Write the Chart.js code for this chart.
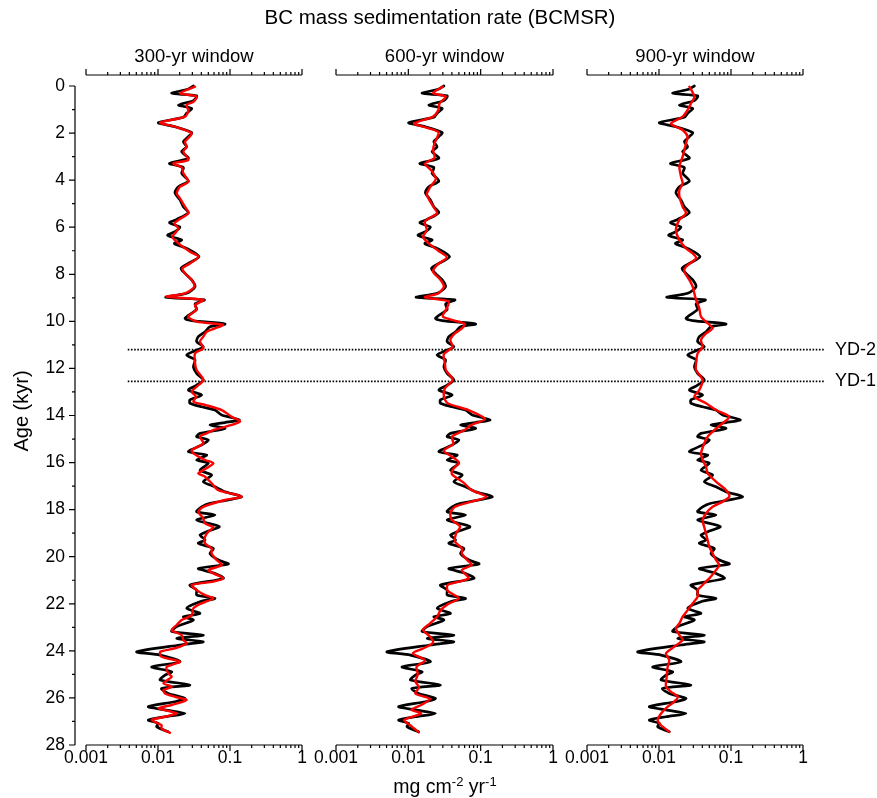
<!DOCTYPE html>
<html>
<head>
<meta charset="utf-8">
<script src="https://cdn.jsdelivr.net/npm/chart.js@4.4.1/dist/chart.umd.min.js"></script>
<style>
  html, body { margin: 0; padding: 0; background: #fff; }
  #wrap { position: relative; width: 877px; height: 798px; }
  #wrap canvas { position: absolute; left: 0; top: 0; }
</style>
</head>
<body>
<div id="wrap">
  <canvas id="c1" width="877" height="798"></canvas>
  <canvas id="c2" width="877" height="798"></canvas>
  <canvas id="c3" width="877" height="798"></canvas>
</div>
<script>
// raw BCMSR (black), same in every panel
const blackAge = [
  0.00, 0.14, 0.31, 0.42, 0.62, 0.81, 0.95, 1.16, 1.33, 1.56, 1.73, 1.98, 2.15, 2.37, 2.58, 2.79,
  3.07, 3.29, 3.46, 3.71, 4.04, 4.28, 4.53, 4.84, 5.13, 5.38, 5.67, 5.81, 6.00, 6.19, 6.35, 6.54,
  6.69, 6.90, 7.25, 7.54, 7.75, 7.96, 8.24, 8.53, 8.81, 8.98, 9.09, 9.26, 9.49, 9.87, 9.97, 10.11,
  10.23, 10.44, 10.65, 10.86, 11.08, 11.22, 11.43, 11.64, 11.93, 12.21, 12.49, 12.71, 12.92, 13.13,
  13.34, 13.48, 13.63, 13.77, 13.98, 14.18, 14.30, 14.40, 14.55, 14.76, 14.90, 15.04, 15.25, 15.54,
  15.68, 15.89, 16.03, 16.32, 16.53, 16.81, 17.03, 17.24, 17.45, 17.59, 17.73, 17.88, 18.09, 18.23,
  18.44, 18.72, 18.94, 19.08, 19.29, 19.43, 19.65, 19.86, 20.14, 20.31, 20.50, 20.71, 20.92, 21.20,
  21.42, 21.63, 21.77, 21.91, 22.19, 22.41, 22.55, 22.69, 22.97, 23.18, 23.33, 23.47, 23.61, 23.75,
  24.04, 24.18, 24.46, 24.68, 24.89, 25.03, 25.24, 25.45, 25.60, 25.81, 26.02, 26.16, 26.37, 26.51,
  26.66, 26.80, 26.94, 27.08, 27.22, 27.44
];
const blackVal = [
  0.031, 0.026, 0.0155, 0.0344, 0.031, 0.0192, 0.0294, 0.025, 0.0225, 0.0101, 0.0172, 0.0294, 0.0264, 0.0225, 0.025, 0.0213,
  0.0264, 0.0144, 0.0225, 0.0213, 0.0264, 0.0192, 0.0172, 0.0202, 0.0225, 0.0264, 0.0182, 0.0144, 0.0202, 0.0172, 0.0136, 0.0213,
  0.0169, 0.025, 0.0371, 0.0264, 0.0209, 0.0237, 0.0294, 0.0327, 0.025, 0.0128, 0.044, 0.0327, 0.0344, 0.0237, 0.0294, 0.0852,
  0.0527, 0.045, 0.0363, 0.0344, 0.0426, 0.0344, 0.025, 0.0327, 0.031, 0.0344, 0.0426, 0.0344, 0.0264, 0.0404,
  0.0278, 0.0278, 0.0404, 0.0619, 0.0766, 0.135, 0.0852, 0.0527, 0.0852, 0.0383, 0.0344, 0.05, 0.0404, 0.0264,
  0.0474, 0.0344, 0.05, 0.0383, 0.0556, 0.0426, 0.0619, 0.0852, 0.145, 0.0948, 0.0527, 0.0404, 0.0344, 0.0619,
  0.0344, 0.071, 0.0474, 0.0383, 0.045, 0.0363, 0.0587, 0.0527, 0.0689, 0.0948, 0.0363, 0.0619, 0.0808, 0.0278,
  0.0344, 0.0344, 0.0619, 0.0383, 0.025, 0.0383, 0.0225, 0.031, 0.0182, 0.0155, 0.0426, 0.0182, 0.0426, 0.0202,
  0.00506, 0.0107, 0.0202, 0.00817, 0.0155, 0.0125, 0.0107, 0.0278, 0.0112, 0.0139, 0.0237, 0.0172, 0.00734, 0.0125,
  0.0237, 0.0125, 0.00734, 0.0101, 0.00958, 0.0139
];

// 300-yr window (red, panel 1)
const red300Age = [
  0.03, 0.31, 0.45, 0.67, 0.81, 1.05, 1.30, 1.56, 1.73, 2.01, 2.37, 2.58, 2.79, 3.14, 3.29, 3.46,
  3.71, 4.07, 4.28, 4.56, 4.77, 5.13, 5.41, 5.69, 5.84, 6.05, 6.26, 6.40, 6.69, 7.04, 7.25, 7.54,
  7.75, 7.96, 8.24, 8.53, 8.81, 8.95, 9.09, 9.31, 9.50, 9.80, 10.01, 10.15, 10.30, 10.44, 10.65, 10.86,
  11.14, 11.36, 11.78, 12.07, 12.49, 12.78, 12.99, 13.20, 13.41, 13.55, 13.77, 14.05, 14.26, 14.48,
  14.62, 14.76, 14.90, 15.18, 15.47, 15.61, 15.89, 16.03, 16.32, 16.46, 16.60, 16.88, 17.17, 17.45,
  17.59, 17.88, 18.09, 18.37, 18.58, 18.75, 18.94, 19.15, 19.43, 19.65, 19.86, 20.14, 20.35, 20.57,
  20.71, 20.92, 21.06, 21.20, 21.42, 21.63, 21.77, 21.98, 22.19, 22.48, 22.69, 22.90, 23.12, 23.33,
  23.54, 23.68, 23.89, 24.04, 24.25, 24.46, 24.68, 24.96, 25.10, 25.38, 25.52, 25.67, 25.81, 25.95,
  26.09, 26.30, 26.44, 26.59, 26.66, 26.80, 26.94, 27.16, 27.30, 27.48
];
const red300Val = [
  0.0327, 0.0202, 0.0344, 0.031, 0.025, 0.0264, 0.0237, 0.0107, 0.0172, 0.0294, 0.0237, 0.025, 0.0225, 0.0264, 0.0163, 0.0213,
  0.0225, 0.0264, 0.0202, 0.0182, 0.0202, 0.0237, 0.0264, 0.0192, 0.0169, 0.0192, 0.0172, 0.0158, 0.0192, 0.0278, 0.0363, 0.0278,
  0.0218, 0.0237, 0.0294, 0.032, 0.0237, 0.0132, 0.0426, 0.0327, 0.0344, 0.0264, 0.0344, 0.08, 0.0619, 0.0474, 0.0426, 0.0383,
  0.0426, 0.0327, 0.0327, 0.0344, 0.0426, 0.0344, 0.0294, 0.0337, 0.031, 0.045, 0.0766, 0.1055, 0.138, 0.0852,
  0.0587, 0.0474, 0.0383, 0.0426, 0.0294, 0.031, 0.045, 0.0587, 0.0426, 0.0363, 0.045, 0.0556, 0.0689, 0.145,
  0.0852, 0.0426, 0.0363, 0.0426, 0.045, 0.0587, 0.05, 0.045, 0.045, 0.0556, 0.0556, 0.0653, 0.0766, 0.05,
  0.0587, 0.0808, 0.0587, 0.0294, 0.0344, 0.045, 0.0587, 0.0404, 0.031, 0.0294, 0.0213, 0.0182, 0.0155, 0.0213,
  0.0225, 0.025, 0.0172, 0.0107, 0.0112, 0.0202, 0.0132, 0.0139, 0.0155, 0.0119, 0.0155, 0.0119, 0.0125, 0.0172,
  0.025, 0.0155, 0.0101, 0.0155, 0.0182, 0.0125, 0.00817, 0.0112, 0.0112, 0.0147
];

// 600-yr window (red, panel 2)
const red600Age = [
  0.03, 0.30, 0.45, 0.74, 1.02, 1.30, 1.59, 1.73, 1.95, 2.20, 2.44, 2.72, 3.05, 3.30, 3.60, 3.95,
  4.30, 4.60, 4.90, 5.20, 5.41, 5.75, 6.12, 6.40, 6.69, 7.00, 7.28, 7.60, 7.89, 8.24, 8.53, 8.81,
  8.98, 9.15, 9.45, 9.80, 10.10, 10.30, 10.51, 10.79, 11.08, 11.40, 11.78, 12.07, 12.49, 12.85, 13.20, 13.48,
  13.77, 14.15, 14.40, 14.62, 14.90, 15.20, 15.50, 15.75, 16.00, 16.30, 16.50, 16.85, 17.17, 17.45,
  17.66, 17.88, 18.16, 18.44, 18.72, 19.00, 19.35, 19.65, 19.86, 20.14, 20.35, 20.57, 20.92, 21.20,
  21.45, 21.77, 22.00, 22.27, 22.55, 22.83, 23.10, 23.40, 23.65, 23.90, 24.10, 24.40, 24.67, 25.00,
  25.30, 25.55, 25.81, 26.05, 26.30, 26.50, 26.66, 26.94, 27.20, 27.46
];
const red600Val = [
  0.030, 0.022, 0.033, 0.027, 0.026, 0.022, 0.012, 0.016, 0.026, 0.025, 0.023, 0.022, 0.023, 0.017, 0.021, 0.024,
  0.020, 0.018, 0.020, 0.023, 0.025, 0.017, 0.018, 0.016, 0.019, 0.026, 0.034, 0.025, 0.022, 0.028, 0.031, 0.026,
  0.017, 0.036, 0.034, 0.030, 0.060, 0.055, 0.044, 0.038, 0.041, 0.031, 0.032, 0.033, 0.041, 0.032, 0.031, 0.035,
  0.068, 0.115, 0.075, 0.060, 0.040, 0.042, 0.031, 0.040, 0.050, 0.041, 0.040, 0.058, 0.075, 0.120,
  0.075, 0.044, 0.038, 0.040, 0.052, 0.046, 0.044, 0.055, 0.055, 0.065, 0.075, 0.055, 0.068, 0.035,
  0.035, 0.050, 0.036, 0.028, 0.025, 0.020, 0.016, 0.020, 0.022, 0.016, 0.0115, 0.017, 0.013, 0.0135,
  0.0125, 0.014, 0.0125, 0.020, 0.015, 0.011, 0.015, 0.0088, 0.011, 0.014
];

// 900-yr window (red, panel 3)
const red900Age = [
  0.03, 0.45, 0.74, 1.02, 1.30, 1.59, 1.73, 1.87, 2.15, 2.44, 2.72, 3.00, 3.43, 3.85, 4.14, 4.42,
  4.70, 5.13, 5.41, 5.69, 6.12, 6.54, 6.90, 7.11, 7.32, 7.68, 7.89, 8.24, 8.53, 8.81, 9.09, 9.45,
  9.80, 10.08, 10.30, 10.51, 10.79, 11.08, 11.36, 11.78, 12.07, 12.49, 12.92, 13.20, 13.48, 13.77,
  14.05, 14.33, 14.62, 14.90, 15.18, 15.61, 15.89, 16.18, 16.46, 16.81, 17.17, 17.45, 17.66, 17.88,
  18.16, 18.44, 18.80, 19.29, 19.58, 19.86, 20.14, 20.35, 20.57, 20.92, 21.20, 21.42, 21.70, 21.98,
  22.27, 22.55, 22.83, 23.05, 23.33, 23.54, 23.82, 24.11, 24.39, 24.67, 25.10, 25.52, 25.74, 25.95,
  26.16, 26.37, 26.66, 26.94, 27.16, 27.44
];
const red900Val = [
  0.0264, 0.031, 0.0278, 0.025, 0.0213, 0.0147, 0.0172, 0.0213, 0.025, 0.0237, 0.0225, 0.0213, 0.0192, 0.0202, 0.0213, 0.0192,
  0.0192, 0.0213, 0.0237, 0.0192, 0.0172, 0.0192, 0.0237, 0.0294, 0.0327, 0.0237, 0.0225, 0.0264, 0.0294, 0.031, 0.0327, 0.0363,
  0.0383, 0.0474, 0.0556, 0.045, 0.0383, 0.0404, 0.0344, 0.0327, 0.0327, 0.0404, 0.0363, 0.031, 0.045, 0.0619,
  0.0948, 0.0766, 0.0587, 0.0474, 0.0426, 0.0383, 0.0404, 0.045, 0.0474, 0.0619, 0.0852, 0.0948, 0.0766, 0.0556,
  0.045, 0.0404, 0.043, 0.0474, 0.05, 0.0556, 0.0619, 0.0689, 0.0619, 0.05, 0.0404, 0.0344, 0.0344, 0.0294,
  0.025, 0.0213, 0.0192, 0.0172, 0.0192, 0.0213, 0.0163, 0.0125, 0.0139, 0.0132, 0.0128, 0.0125, 0.0147, 0.0182,
  0.0163, 0.0132, 0.0107, 0.00958, 0.0107, 0.0139
];

const panelTitles = ['300-yr window', '600-yr window', '900-yr window'];
const xTicks = [0.001, 0.01, 0.1, 1];
const xMinor = [2, 3, 4, 5, 6, 7, 8, 9];
const yTicks = [0, 2, 4, 6, 8, 10, 12, 14, 16, 18, 20, 22, 24, 26, 28];
const ydAges = [11.2, 12.55];
const ydLabels = ['YD-2', 'YD-1'];

const redAges = [red300Age, red600Age, red900Age];
const redVals = [red300Val, red600Val, red900Val];

// layout (pixels)
const W = 877, H = 798;
const panelLeft = [86, 336, 587];
const panelRight = [302, 553, 803];
const FONT = '"Liberation Sans", Arial, Helvetica, sans-serif';

function pts(ages, vals) {
  return ages.map((a, i) => ({ x: vals[i], y: a }));
}

function drawAxes(chart, i) {
  const ctx = chart.ctx, xs = chart.scales.x, ys = chart.scales.y, ca = chart.chartArea;
  const x0 = xs.getPixelForValue(xTicks[0]);
  const x1 = xs.getPixelForValue(xTicks[xTicks.length - 1]);
  ctx.save();
  ctx.strokeStyle = '#000';
  ctx.lineWidth = 1.2;
  [[ca.bottom, 1], [ca.top, -1]].forEach(([y, dir]) => {
    ctx.beginPath();
    ctx.moveTo(x0, y);
    ctx.lineTo(x1, y);
    xTicks.forEach((t, k) => {
      let px = xs.getPixelForValue(t);
      ctx.moveTo(px, y);
      ctx.lineTo(px, y + dir * 6);
      if (k < xTicks.length - 1) {
        xMinor.forEach(m => {
          px = xs.getPixelForValue(m * t);
          ctx.moveTo(px, y);
          ctx.lineTo(px, y + dir * 3);
        });
      }
    });
    ctx.stroke();
  });

  // panel title
  ctx.fillStyle = '#000';
  ctx.font = '18.5px ' + FONT;
  ctx.textAlign = 'center';
  ctx.textBaseline = 'middle';
  ctx.fillText(panelTitles[i], (x0 + x1) / 2, 57);

  if (i === 0) {
    // y axis, offset to the left of the x range
    const ax = ca.left - 11;
    const yTop = ys.getPixelForValue(yTicks[0]);
    const yBot = ys.getPixelForValue(yTicks[yTicks.length - 1]);
    ctx.beginPath();
    ctx.moveTo(ax, yTop);
    ctx.lineTo(ax, yBot);
    for (let a = yTicks[0]; a <= yTicks[yTicks.length - 1]; a++) {
      const py = ys.getPixelForValue(a);
      ctx.moveTo(ax, py);
      ctx.lineTo(ax - (a % 2 === 0 ? 6 : 3), py);
    }
    ctx.stroke();

    ctx.font = '20.5px ' + FONT;
    ctx.fillText('BC mass sedimentation rate (BCMSR)', 440, 18);

    ctx.save();
    ctx.font = '20px ' + FONT;
    ctx.translate(22, 411);
    ctx.rotate(-Math.PI / 2);
    ctx.fillText('Age (kyr)', 0, 0);
    ctx.restore();

    // x axis title with superscripts
    const parts = [['mg cm', 0], ['-2', 1], [' yr', 0], ['-1', 1]];
    const big = '19.5px ' + FONT, small = '13px ' + FONT;
    let total = 0;
    parts.forEach(([t, s]) => { ctx.font = s ? small : big; total += ctx.measureText(t).width; });
    let x = 445 - total / 2;
    ctx.textAlign = 'left';
    ctx.textBaseline = 'alphabetic';
    parts.forEach(([t, s]) => {
      ctx.font = s ? small : big;
      ctx.fillText(t, x, s ? 786 : 793);
      x += ctx.measureText(t).width;
    });
  }
  ctx.restore();
}

function drawYD(chart) {
  const ctx = chart.ctx, xs = chart.scales.x, ys = chart.scales.y;
  const xStart = xs.getPixelForValue(0.0038);
  const xEnd = 825;
  ctx.save();
  ctx.strokeStyle = '#000';
  ctx.lineWidth = 1.6;
  ctx.setLineDash([1.6, 1.6]);
  ydAges.forEach(a => {
    const py = ys.getPixelForValue(a);
    ctx.beginPath();
    ctx.moveTo(xStart, py);
    ctx.lineTo(xEnd, py);
    ctx.stroke();
  });
  ctx.setLineDash([]);
  ctx.fillStyle = '#000';
  ctx.font = '18px ' + FONT;
  ctx.textAlign = 'left';
  ctx.textBaseline = 'middle';
  ydAges.forEach((a, k) => {
    ctx.fillText(ydLabels[k], 835, ys.getPixelForValue(a));
  });
  ctx.restore();
}

function makePanel(i) {
  const first = i === 0;
  return new Chart(document.getElementById('c' + (i + 1)), {
    type: 'line',
    data: {
      // dataset 0 is painted last, so the red smoothed curve sits on top
      datasets: [
        { data: pts(redAges[i], redVals[i]), borderColor: '#ff0000', borderWidth: 2.4 },
        { data: pts(blackAge, blackVal), borderColor: '#000000', borderWidth: 2.7 }
      ]
    },
    options: {
      indexAxis: 'y',
      responsive: false,
      animation: false,
      events: [],
      layout: {
        padding: { left: first ? 0 : panelLeft[i], right: W - panelRight[i], top: 75, bottom: 23 }
      },
      elements: {
        point: { radius: 0 },
        line: { tension: 0.25, fill: false, borderJoinStyle: 'round', borderCapStyle: 'round' }
      },
      plugins: {
        legend: { display: false },
        tooltip: { enabled: false },
        title: { display: false }
      },
      scales: {
        x: {
          type: 'logarithmic',
          position: 'bottom',
          min: 0.001,
          max: 1,
          grid: { display: false, drawTicks: false },
          border: { display: false },
          afterBuildTicks: s => { s.ticks = xTicks.map(v => ({ value: v })); },
          afterFit: s => { s.height = 30; },
          ticks: {
            autoSkip: false,
            maxRotation: 0,
            padding: 3,
            color: '#000',
            font: { family: FONT, size: 17.5 },
            callback: v => String(v)
          }
        },
        y: {
          type: 'linear',
          reverse: true,
          min: -0.467,
          max: 28,
          display: first,
          grid: { display: false, drawTicks: false },
          border: { display: false },
          afterBuildTicks: s => { s.ticks = yTicks.map(v => ({ value: v })); },
          afterFit: s => { s.width = first ? panelLeft[0] : 0; },
          ticks: {
            autoSkip: false,
            padding: 21,
            color: '#000',
            font: { family: FONT, size: 17.5 },
            callback: v => String(v)
          }
        }
      }
    },
    plugins: [{
      id: 'frame' + i,
      beforeDatasetsDraw(chart) { if (first) drawYD(chart); },
      afterDraw(chart) { drawAxes(chart, i); }
    }]
  });
}

[0, 1, 2].forEach(makePanel);
</script>
</body>
</html>
